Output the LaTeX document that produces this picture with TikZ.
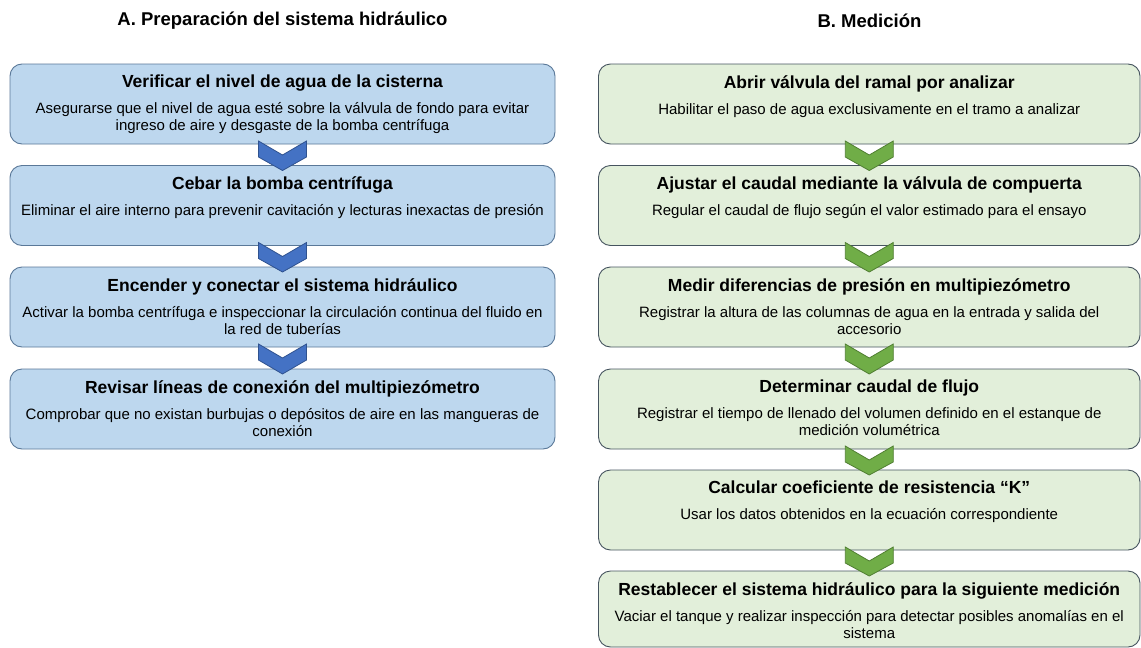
\documentclass[tikz,border=0pt]{standalone}
\usepackage{fontspec}
\setmainfont{Liberation Sans}
\usetikzlibrary{positioning}

\definecolor{boxblue}{HTML}{BDD7EE}
\definecolor{lineblue}{HTML}{5A7898}
\definecolor{boxgreen}{HTML}{E2EFDA}
\definecolor{linegreen}{HTML}{46545F}
\definecolor{chevblue}{HTML}{4472C4}
\definecolor{chevblueline}{HTML}{2F528F}
\definecolor{chevgreen}{HTML}{70AD47}
\definecolor{chevgreenline}{HTML}{507E32}

\newcommand{\titlef}{\fontsize{17.5}{17}\selectfont\bfseries}
\newcommand{\bodyf}{\fontsize{15}{17}\selectfont}

% chevron from one box down to the next
\newcommand{\chevron}[3]{%
  \draw[#3] ([shift={(-24,-3)}]#1.south) -- ([shift={(0,11)}]#1.south)
    -- ([shift={(24,-3)}]#1.south) -- ([shift={(24,13)}]#1.south)
    -- ([shift={(0,5)}]#2.north) -- ([shift={(-24,13)}]#1.south) -- cycle;}

\tikzset{
  stepA/.style={draw=lineblue, fill=boxblue, rounded corners=12pt,
    minimum width=545pt, minimum height=80pt, inner sep=0pt, outer sep=0pt,
    line width=0.9pt},
  stepB/.style={stepA, draw=linegreen, fill=boxgreen, minimum width=541.5pt},
  txt/.style={align=center, font=\bodyf, inner sep=0pt},
  chevA/.style={fill=chevblue, draw=chevblueline, line width=0.8pt},
  chevB/.style={fill=chevgreen, draw=chevgreenline, line width=0.8pt},
  head/.style={font=\fontsize{18.5}{20}\selectfont\bfseries, inner sep=0pt}
}

\begin{document}
\begin{tikzpicture}[x=1pt, y=-1pt]
  \useasboundingbox (0,0) rectangle (1141,648);

  % headings
  \node[head] (hA) at (282.5,21) {A. Preparación del sistema hidráulico};
  \node[head] (hB) at (869.5,21) {B. Medición};

  % A. boxes
  \node[stepA] (a1) at (282.5,104) {};
  \node[stepA] (a2) at (282.5,205.5) {};
  \node[stepA] (a3) at (282.5,307) {};
  \node[stepA] (a4) at (282.5,409) {};

  % B. boxes
  \node[stepB] (b1) at (869.25,104) {};
  \node[stepB] (b2) at (869.25,205.5) {};
  \node[stepB] (b3) at (869.25,307) {};
  \node[stepB] (b4) at (869.25,409) {};
  \node[stepB] (b5) at (869.25,510) {};
  \node[stepB, minimum height=76pt] (b6) at (869.25,609) {};

  % chevrons
  \foreach \u/\v in {a1/a2,a2/a3,a3/a4} {
    \chevron{\u}{\v}{chevA}
  }
  \foreach \u/\v in {b1/b2,b2/b3,b3/b4,b4/b5,b5/b6} {
    \chevron{\u}{\v}{chevB}
  }

  % texts A
  \node[txt, below=11pt of a1.north] (a1t) {{\titlef Verificar el nivel de agua de la cisterna}\\[9pt]
    Asegurarse que el nivel de agua esté sobre la válvula de fondo para evitar\\
    ingreso de aire y desgaste de la bomba centrífuga};
  \node[txt, below=11pt of a2.north] (a2t) {{\titlef Cebar la bomba centrífuga}\\[9pt]
    Eliminar el aire interno para prevenir cavitación y lecturas inexactas de presión};
  \node[txt, below=11pt of a3.north] (a3t) {{\titlef Encender y conectar el sistema hidráulico}\\[9pt]
    Activar la bomba centrífuga e inspeccionar la circulación continua del fluido en\\
    la red de tuberías};
  \node[txt, below=11pt of a4.north] (a4t) {{\titlef Revisar líneas de conexión del multipiezómetro}\\[9pt]
    Comprobar que no existan burbujas o depósitos de aire en las mangueras de\\
    conexión};

  % texts B
  \node[txt, below=11pt of b1.north] (b1t) {{\titlef Abrir válvula del ramal por analizar}\\[9pt]
    Habilitar el paso de agua exclusivamente en el tramo a analizar};
  \node[txt, below=11pt of b2.north] (b2t) {{\titlef Ajustar el caudal mediante la válvula de compuerta}\\[9pt]
    Regular el caudal de flujo según el valor estimado para el ensayo};
  \node[txt, below=11pt of b3.north] (b3t) {{\titlef Medir diferencias de presión en multipiezómetro}\\[9pt]
    Registrar la altura de las columnas de agua en la entrada y salida del\\
    accesorio};
  \node[txt, below=11pt of b4.north] (b4t) {{\titlef Determinar caudal de flujo}\\[9pt]
    Registrar el tiempo de llenado del volumen definido en el estanque de\\
    medición volumétrica};
  \node[txt, below=11pt of b5.north] (b5t) {{\titlef Calcular coeficiente de resistencia “K”}\\[9pt]
    Usar los datos obtenidos en la ecuación correspondiente};
  \node[txt, below=11pt of b6.north] (b6t) {{\titlef Restablecer el sistema hidráulico para la siguiente medición}\\[9pt]
    Vaciar el tanque y realizar inspección para detectar posibles anomalías en el\\
    sistema};
\end{tikzpicture}
\end{document}
